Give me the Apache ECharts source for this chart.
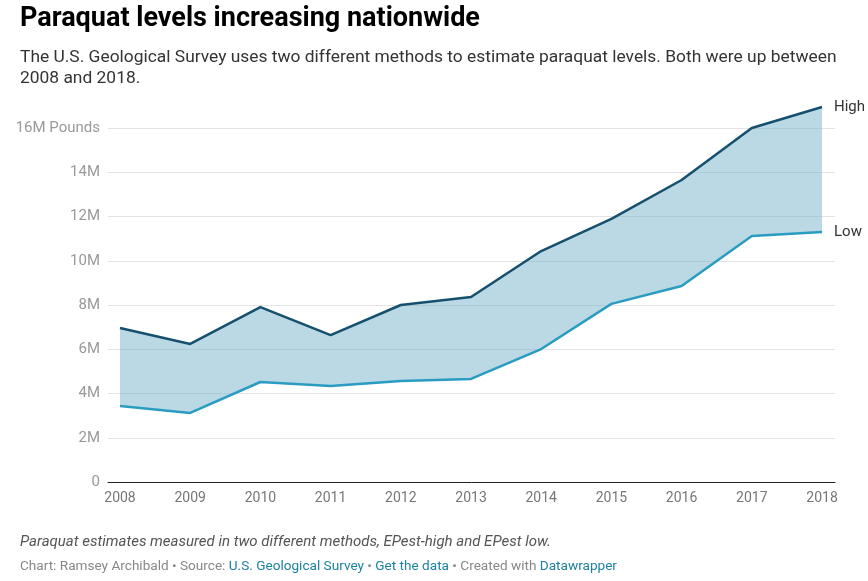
<!DOCTYPE html>
<html>
<head>
<meta charset="utf-8">
<script src="https://cdn.jsdelivr.net/npm/echarts@6/dist/echarts.min.js"></script>
<style>html,body{margin:0;padding:0;background:#fff;}#c{width:868px;height:581px;}</style>
</head>
<body>
<div id="c"></div>
<script>
const years = [2008, 2009, 2010, 2011, 2012, 2013, 2014, 2015, 2016, 2017, 2018];
const high = [6.96, 6.24, 7.90, 6.64, 8.00, 8.36, 10.44, 11.89, 13.65, 16.00, 16.95];
const low  = [3.43, 3.12, 4.52, 4.34, 4.56, 4.66, 6.01, 8.05, 8.86, 11.12, 11.30];
const yTicks = [0, 2, 4, 6, 8, 10, 12, 14, 16];

const pair = (arr) => years.map((y, i) => [y, arr[i]]);

const chart = echarts.init(document.getElementById('c'), null, {renderer: 'canvas'});
const font = 'Roboto, "Noto Sans", sans-serif';
chart.setOption({
  backgroundColor: '#fff',
  animation: false,
  textStyle: {fontFamily: font},
  title: [
    {text: 'Paraquat levels increasing nationwide', left: 15, top: 1,
     textStyle: {fontFamily: font, fontSize: 27, fontWeight: 'bold', color: '#000'}},
    {text: 'The U.S. Geological Survey uses two different methods to estimate paraquat levels. Both were up between\n2008 and 2018.',
     left: 15, top: 42,
     textStyle: {fontFamily: font, fontSize: 17.4, fontWeight: 'normal', color: '#333', lineHeight: 21}},
    {text: 'Paraquat estimates measured in two different methods, EPest-high and EPest low.', left: 15, top: 530,
     textStyle: {fontFamily: font, fontSize: 15, fontStyle: 'italic', fontWeight: 'normal', color: '#555'}},
    {text: '{g|Chart: Ramsey Archibald • Source: }{b|U.S. Geological Survey}{g| • }{b|Get the data}{g| • Created with }{b|Datawrapper}',
     left: 15, top: 555,
     textStyle: {fontFamily: font, fontSize: 13.6, fontWeight: 'normal',
       rich: {g: {color: '#888', fontSize: 13.6, fontFamily: font}, b: {color: '#1d81a2', fontSize: 13.6, fontFamily: font}}}}
  ],
  grid: {left: 108, right: 33, top: 128, bottom: 99},
  xAxis: {
    type: 'value', min: 2007.829, max: 2018.185,
    axisLine: {show: true, onZero: false, lineStyle: {color: '#222', width: 1}},
    axisTick: {show: false},
    splitLine: {show: false},
    axisLabel: {customValues: years, color: '#777', fontSize: 14, margin: 9, fontFamily: font,
      formatter: (v) => String(v)}
  },
  yAxis: {
    type: 'value', min: 0, max: 16, interval: 2,
    axisLine: {show: false}, axisTick: {show: false},
    splitLine: {show: true, lineStyle: {color: '#e3e3e3', width: 1}},
    axisLabel: {color: '#999', fontSize: 15, margin: 8, fontFamily: font,
      formatter: (v) => v === 0 ? '0' : (v === 16 ? '16M Pounds' : v + 'M')}
  },
  series: [
    {type: 'custom', name: 'band', data: [0], silent: true, clip: false, z: 1,
     renderItem: function (params, api) {
       const top = years.map((y, i) => api.coord([y, high[i]]));
       const bot = years.map((y, i) => api.coord([y, low[i]])).reverse();
       return {type: 'polygon', shape: {points: top.concat(bot)},
               style: {fill: 'rgba(120,180,202,0.5)'}};
     }},
    {type: 'line', name: 'High', data: pair(high), symbol: 'none', clip: false, z: 3,
     lineStyle: {color: '#15506e', width: 2.5},
     endLabel: {show: true, formatter: 'High', color: '#333', fontSize: 15, distance: 12, fontFamily: font}},
    {type: 'line', name: 'Low', data: pair(low), symbol: 'none', clip: false, z: 3,
     lineStyle: {color: '#2a9cc2', width: 2.5},
     endLabel: {show: true, formatter: 'Low', color: '#333', fontSize: 15, distance: 12, fontFamily: font}}
  ]
});
</script>
</body>
</html>
